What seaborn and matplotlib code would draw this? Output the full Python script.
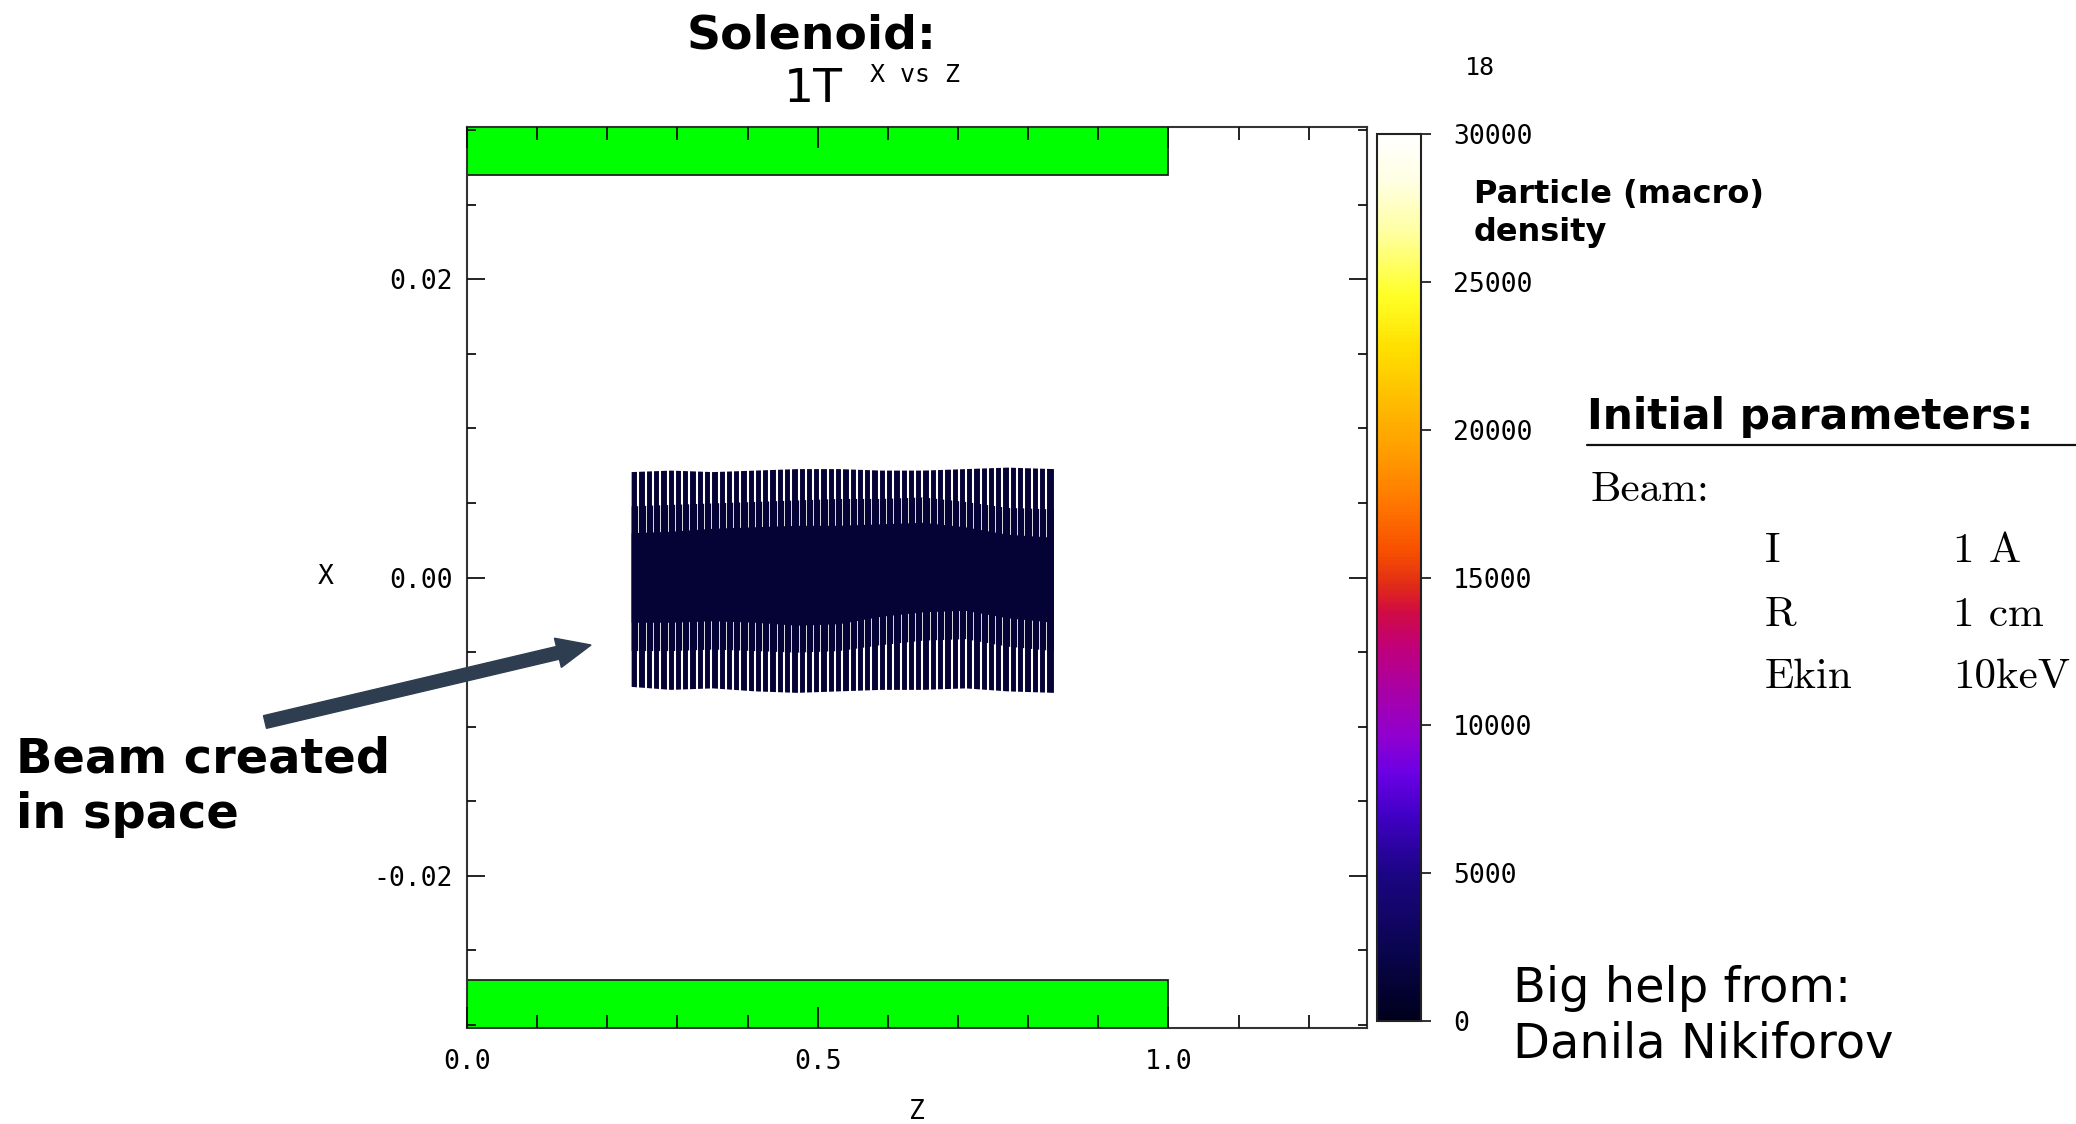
import numpy as np
import matplotlib
matplotlib.use("Agg")
import matplotlib.pyplot as plt
import seaborn as sns
from matplotlib.colors import LinearSegmentedColormap, Normalize
from matplotlib.cm import ScalarMappable
from matplotlib.ticker import FixedLocator, MultipleLocator, FixedFormatter
from matplotlib.patches import FancyArrow
from matplotlib.transforms import IdentityTransform

# ---------------- data ----------------
title_main = "Solenoid:"
title_field = "1T"
plot_title = "X vs Z"
x_label = "Z"
y_label = "X"

z_limits = [0.0, 1.283]
x_limits = [-0.0302, 0.0302]
z_major_ticks = [0.0, 0.5, 1.0]
z_tick_labels = ["0.0", "0.5", "1.0"]
x_major_ticks = [-0.02, 0.0, 0.02]
x_tick_labels = ["-0.02", "0.00", "0.02"]

solenoid_z = [0.0, 1.0]
solenoid_inner_radius = 0.027
solenoid_outer_radius = 0.0310

beam_z = [0.234, 0.29, 0.35, 0.41, 0.47, 0.53, 0.59, 0.65, 0.71, 0.77, 0.836]
halo_top = [0.0071, 0.0072, 0.0071, 0.0072, 0.0073, 0.0073, 0.0072, 0.0072, 0.0073, 0.0074, 0.0073]
halo_bot = [-0.0073, -0.0075, -0.0074, -0.0076, -0.0077, -0.0076, -0.0075, -0.0075, -0.0074, -0.0076, -0.0077]
inner_top = [0.0048, 0.0049, 0.0050, 0.0051, 0.0052, 0.0053, 0.0053, 0.0054, 0.0051, 0.0047, 0.0046]
inner_bot = [-0.0049, -0.0049, -0.0048, -0.0049, -0.0050, -0.0049, -0.0045, -0.0042, -0.0041, -0.0046, -0.0049]
core_top = [0.0030, 0.0031, 0.0033, 0.0034, 0.0035, 0.0035, 0.0036, 0.0037, 0.0034, 0.0029, 0.0027]
core_bot = [-0.0030, -0.0030, -0.0029, -0.0030, -0.0032, -0.0031, -0.0026, -0.0023, -0.0022, -0.0027, -0.0030]
beam_stripe_count = 58
beam_density = 1200

cbar_ticks = [0, 5000, 10000, 15000, 20000, 25000, 30000]
cbar_max = 30000
cbar_exponent_label = "18"
cbar_title = ["Particle (macro)", "density"]
cmap_positions = [0.0, 0.08, 0.167, 0.233, 0.28, 0.32, 0.37, 0.42, 0.46, 0.49,
                  0.53, 0.58, 0.64, 0.70, 0.76, 0.82, 0.89, 0.95, 1.0]
cmap_colors = ["#00001c", "#0a0550", "#1c0585", "#4200c8", "#6c00e4", "#9000d0",
               "#a800a8", "#c0007a", "#d00a45", "#e02a18", "#f85000", "#ff7400",
               "#ff9c00", "#ffbc00", "#ffe000", "#ffff28", "#ffffa0", "#ffffe4", "#ffffff"]

params_title = "Initial parameters:"
params_group = "Beam:"
param_names = ["I", "R", "Ekin"]
param_values = ["1 A", "1 cm", "10keV"]
annotation_lines = ["Beam created", "in space"]
credit_lines = ["Big help from:", "Danila Nikiforov"]

# ---------------- figure ----------------
sns.set_theme(style="white")
plt.rcParams["font.family"] = ["DejaVu Sans Mono", "DejaVu Sans"]
plt.rcParams["axes.unicode_minus"] = False
plt.rcParams["text.color"] = "black"
plt.rcParams["axes.labelcolor"] = "black"
plt.rcParams["xtick.color"] = "black"
plt.rcParams["ytick.color"] = "black"

W, H = 2076, 1124
fig = plt.figure(figsize=(W / 100, H / 100), dpi=100)
fig.patch.set_facecolor("white")

ax = fig.add_axes([467 / W, 1 - 1028 / H, 900 / W, 901 / H])
cax = fig.add_axes([1377 / W, 1 - 1021 / H, 44 / W, 887 / H])
ax.set_axisbelow(False)

cmap = LinearSegmentedColormap.from_list("dens", list(zip(cmap_positions, cmap_colors)))
norm = Normalize(0, cbar_max)
beam_color = cmap(norm(beam_density))

# solenoid coils
for sign in (1, -1):
    lo = solenoid_inner_radius if sign > 0 else -solenoid_outer_radius
    ax.bar(solenoid_z[0], solenoid_outer_radius - solenoid_inner_radius, width=solenoid_z[1] - solenoid_z[0],
           bottom=lo, align="edge", color="#00ff00", edgecolor="#202020", linewidth=1.3, zorder=1)

# beam: sparse outer halo, denser inner halo, solid core
gaps = np.linspace(beam_z[0], beam_z[-1], beam_stripe_count + 1)[1:-1]
ax.fill_between(beam_z, halo_bot, halo_top, color=beam_color, linewidth=0, zorder=1.2)
ax.vlines(gaps, min(halo_bot) - 0.0005, max(halo_top) + 0.0005, color="white", linewidth=1.5, zorder=1.3)
ax.fill_between(beam_z, inner_bot, inner_top, color=beam_color, linewidth=0, zorder=1.4)
ax.vlines(gaps, min(inner_bot), max(inner_top), color="white", linewidth=0.6, zorder=1.5)
ax.fill_between(beam_z, core_bot, core_top, color=beam_color, linewidth=0, zorder=1.6)

ax.set_xlim(*z_limits)
ax.set_ylim(*x_limits)
ax.xaxis.set_major_locator(FixedLocator(z_major_ticks))
ax.xaxis.set_major_formatter(FixedFormatter(z_tick_labels))
ax.xaxis.set_minor_locator(MultipleLocator(0.1))
ax.yaxis.set_major_locator(FixedLocator(x_major_ticks))
ax.yaxis.set_major_formatter(FixedFormatter(x_tick_labels))
ax.yaxis.set_minor_locator(MultipleLocator(0.005))
ax.tick_params(axis="both", which="both", direction="in", top=True, right=True, bottom=True, left=True,
               colors="#111111", labelcolor="black", labelsize=19)
ax.tick_params(axis="x", which="major", length=15, width=1.3, pad=15)
ax.tick_params(axis="x", which="minor", length=9.4, width=1.3)
ax.tick_params(axis="y", which="major", length=13, width=1.3, pad=10)
ax.tick_params(axis="y", which="minor", length=6.5, width=1.3)
for sp in ax.spines.values():
    sp.set_color("#333333")
    sp.set_linewidth(1.5)

ax.set_xlabel(x_label, fontsize=19)
ax.set_ylabel(y_label, fontsize=19, rotation=0)
ax.xaxis.set_label_coords(0.5, (1028 - 1112) / 901)
ax.yaxis.set_label_coords((326 - 467) / 900, 0.5)
ax.xaxis.label.set_va("center")
ax.yaxis.label.set_va("center")
ax.yaxis.label.set_ha("center")
ax.text(0.498, 1 + 52 / 901, plot_title, transform=ax.transAxes, ha="center", va="center", fontsize=18)

# colorbar
cb = fig.colorbar(ScalarMappable(norm=norm, cmap=cmap), cax=cax, ticks=cbar_ticks)
cb.outline.set_linewidth(1.5)
cb.outline.set_edgecolor("#222222")
cax.tick_params(axis="y", which="both", right=True, left=False, direction="out", length=7, width=1.3,
                pad=16, labelsize=19, colors="#222222", labelcolor="black")
cax.set_yticklabels([str(t) for t in cbar_ticks])


def ftext(x, y, s, **kw):
    fig.text(x / W, 1 - y / H, s, **kw)


ftext(1480, 68, cbar_exponent_label, ha="center", va="center", fontsize=18)
ftext(1474, 195, cbar_title[0], ha="left", va="center", fontsize=23, fontweight="bold", family="DejaVu Sans")
ftext(1474, 232, cbar_title[1], ha="left", va="center", fontsize=23, fontweight="bold", family="DejaVu Sans")

ftext(812, 36, title_main, ha="center", va="center", fontsize=34, fontweight="bold", family="DejaVu Sans")
ftext(813, 90, title_field, ha="center", va="center", fontsize=34, family="DejaVu Sans")

# parameters table
ftext(1587, 417, params_title, ha="left", va="center", fontsize=30.5, fontweight="bold", family="DejaVu Sans")
fig.add_artist(plt.Line2D([1587 / W, 1.0], [1 - 445 / H, 1 - 445 / H], color="#111111", linewidth=1.6))
ftext(1591, 490, params_group, ha="left", va="center", fontsize=31, family="cmr10")
for i, (nm, vl) in enumerate(zip(param_names, param_values)):
    yy = [551, 615, 677][i]
    ftext(1765, yy, nm, ha="left", va="center", fontsize=31, family="cmr10")
    ftext(1953, yy, vl, ha="left", va="center", fontsize=31, family="cmr10")

# annotation
ftext(16, 759, annotation_lines[0], ha="left", va="center", fontsize=34.5, fontweight="bold", family="DejaVu Sans")
ftext(16, 815, annotation_lines[1], ha="left", va="center", fontsize=34.5, fontweight="bold", family="DejaVu Sans")
arrow = FancyArrow(265, H - 722, 326, 77, width=13, head_width=30, head_length=34,
                   length_includes_head=True, color="#2e3e50", transform=IdentityTransform())
fig.add_artist(arrow)

ftext(1513, 988, credit_lines[0], ha="left", va="center", fontsize=34.5, family="DejaVu Sans")
ftext(1513, 1044, credit_lines[1], ha="left", va="center", fontsize=34.5, family="DejaVu Sans")

fig.savefig("out.png", dpi=100, facecolor="white")
